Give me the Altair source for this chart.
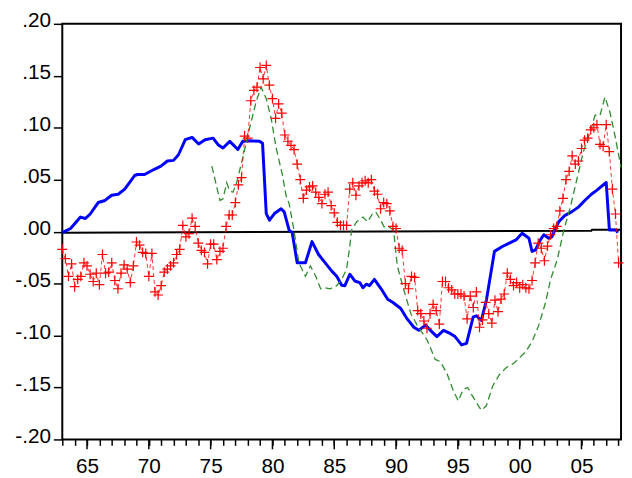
import altair as alt
import pandas as pd

# ---------------- data ----------------
# Blue solid series: (decimal year, value)
blue_t = [1963.0, 1963.67, 1964.47, 1964.87, 1965.26, 1965.9, 1966.46, 1966.99, 1967.52, 1968.05,
          1968.85, 1969.1, 1969.65, 1970.45, 1970.98, 1971.5, 1972.0, 1972.4, 1972.95, 1973.5,
          1974.03, 1974.55, 1975.2, 1975.6, 1976.0, 1976.55, 1977.2, 1977.6, 1978.15, 1978.95,
          1979.2, 1979.5, 1979.76, 1980.16, 1980.7, 1980.95, 1981.35, 1981.6, 1982.0, 1982.4,
          1982.67, 1983.2, 1983.73, 1984.27, 1984.8, 1985.2, 1985.6, 1985.86, 1986.26, 1986.66,
          1987.06, 1987.32, 1987.59, 1987.85, 1988.25, 1988.79, 1989.32, 1989.72, 1990.38, 1990.9,
          1991.44, 1991.84, 1992.38, 1992.78, 1993.3, 1993.84, 1994.37, 1994.77, 1995.3, 1995.7,
          1996.24, 1996.5, 1996.9, 1997.3, 1997.96, 1998.6, 1999.16, 1999.7, 2000.2, 2000.75,
          2001.0, 2001.28, 2001.67, 2001.95, 2002.35, 2002.6, 2003.15, 2003.67, 2004.2, 2004.75,
          2005.27, 2005.8, 2006.2, 2007.0, 2007.26, 2007.8, 2007.93]
blue_v = [-0.001, 0.003, 0.014, 0.0126, 0.017, 0.028, 0.030, 0.035, 0.036, 0.041,
          0.054, 0.055, 0.055, 0.060, 0.063, 0.068, 0.0686, 0.074, 0.0885, 0.0907,
          0.0843, 0.0885, 0.090, 0.0837, 0.0805, 0.0869, 0.079, 0.087, 0.0875, 0.0869,
          0.085, 0.0174, 0.011, 0.0174, 0.022, 0.019, 0.0015, -0.001, -0.030, -0.030,
          -0.030, -0.0096, -0.022, -0.030, -0.038, -0.043, -0.0516, -0.052, -0.041, -0.0475,
          -0.049, -0.054, -0.0506, -0.052, -0.046, -0.055, -0.065, -0.068, -0.074, -0.084,
          -0.092, -0.095, -0.090, -0.095, -0.101, -0.095, -0.098, -0.101, -0.109, -0.1075,
          -0.082, -0.081, -0.0855, -0.0665, -0.019, -0.0143, -0.011, -0.008, -0.0016, -0.0064,
          -0.019, -0.0175, -0.008, -0.003, -0.0064, -0.005, 0.0094, 0.0157, 0.019, 0.0236,
          0.030, 0.036, 0.0395, 0.0473, 0.0015, 0.0015, -0.001]

# Green dashed series
green_t = [1975.1, 1975.5, 1975.76, 1976.0, 1976.3, 1976.55, 1976.8, 1977.1, 1977.6, 1978.15,
           1978.68, 1979.08, 1979.5, 1979.9, 1980.3, 1980.8, 1981.1, 1981.35, 1981.74, 1982.14,
           1982.67, 1983.07, 1983.5, 1983.9, 1984.27, 1984.67, 1985.2, 1985.6, 1986.0, 1986.26,
           1986.4, 1986.8, 1987.33, 1987.7, 1988.1, 1988.36, 1988.76, 1989.03, 1989.4, 1989.8,
           1990.1, 1990.65, 1991.2, 1991.7, 1992.5, 1993.17, 1993.57, 1994.1, 1994.63, 1995.03,
           1995.43, 1995.8, 1996.1, 1996.5, 1996.9, 1997.3, 1997.82, 1998.36, 1998.9, 1999.55,
           1999.95, 2000.5, 2001.0, 2001.55, 2002.1, 2002.5, 2003.04, 2003.57, 2004.1, 2004.6,
           2005.15, 2005.7, 2006.1, 2006.5, 2006.9, 2007.3, 2007.7, 2008.2]
green_v = [0.063, 0.0426, 0.030, 0.0316, 0.047, 0.039, 0.038, 0.047, 0.071, 0.0995,
           0.125, 0.139, 0.128, 0.109, 0.0805, 0.055, 0.0347, 0.027, 0.0015, -0.030,
           -0.043, -0.033, -0.043, -0.055, -0.054, -0.055, -0.052, -0.046, -0.036, -0.014,
           0.0015, 0.0094, 0.014, 0.0094, 0.0174, 0.019, 0.011, 0.0047, 0.0047, 0.0015,
           -0.033, -0.057, -0.079, -0.090, -0.104, -0.123, -0.125, -0.136, -0.153, -0.163,
           -0.152, -0.150, -0.1566, -0.1645, -0.172, -0.1676, -0.1486, -0.1376, -0.131, -0.1265,
           -0.1218, -0.1154, -0.106, -0.090, -0.068, -0.046, -0.027, 0.0015, 0.0236, 0.049,
           0.077, 0.096, 0.112, 0.112, 0.1295, 0.115, 0.093, 0.0615]

# Red dashed series with + markers, quarterly from 1963Q1
red_start = 1963.0
red_q = [
    -0.017, -0.026, -0.043, -0.031,   # 1963
    -0.053, -0.046, -0.043, -0.030,   # 1964
    -0.033, -0.041, -0.048, -0.040,   # 1965
    -0.051, -0.022, -0.040, -0.039,   # 1966
    -0.030, -0.047, -0.055, -0.040,   # 1967
    -0.032, -0.036, -0.049, -0.033,   # 1968
    -0.010, -0.013, -0.020, -0.021,   # 1969
    -0.043, -0.021, -0.058, -0.061,   # 1970
    -0.052, -0.039, -0.036, -0.033,   # 1971
    -0.030, -0.022, -0.017, 0.006,    # 1972
    -0.005, -0.002, 0.013, 0.005,     # 1973
    -0.011, -0.018, -0.020, -0.031,   # 1974
    -0.012, -0.012, -0.027, -0.019,   # 1975
    -0.016, 0.005, 0.016, 0.016,      # 1976
    0.028, 0.045, 0.052, 0.092,       # 1977
    0.090, 0.126, 0.136, 0.139,       # 1978
    0.158, 0.147, 0.160, 0.141,       # 1979
    0.128, 0.109, 0.123, 0.114,       # 1980
    0.093, 0.087, 0.083, 0.079,       # 1981
    0.065, 0.050, 0.032, 0.040,       # 1982
    0.043, 0.044, 0.038, 0.033,       # 1983
    0.027, 0.036, 0.038, 0.025,       # 1984
    0.018, 0.009, 0.006, 0.006,       # 1985
    0.006, 0.041, 0.047, 0.035,       # 1986
    0.044, 0.047, 0.049, 0.047,       # 1987
    0.050, 0.039, 0.036, 0.022,       # 1988
    0.028, 0.027, 0.020, 0.005,       # 1989
    0.003, -0.016, -0.018, -0.050,    # 1990
    -0.055, -0.043, -0.044, -0.076,   # 1991
    -0.079, -0.086, -0.093, -0.079,   # 1992
    -0.070, -0.076, -0.089, -0.048,   # 1993
    -0.048, -0.054, -0.056, -0.060,   # 1994
    -0.060, -0.060, -0.062, -0.084,   # 1995
    -0.062, -0.073, -0.058, -0.092,   # 1996
    -0.085, -0.068, -0.079, -0.088,   # 1997
    -0.066, -0.077, -0.065, -0.060,   # 1998
    -0.040, -0.046, -0.052, -0.049,   # 1999
    -0.054, -0.051, -0.054, -0.055,   # 2000
    -0.047, -0.030, -0.011, -0.016,   # 2001
    -0.028, -0.014, -0.003, 0.003,    # 2002
    0.005, 0.020, 0.032, 0.050,       # 2003
    0.058, 0.073, 0.065, 0.068,       # 2004
    0.080, 0.088, 0.090, 0.098,       # 2005
    0.100, 0.103, 0.084, 0.082,       # 2006
    0.103, 0.077, 0.041, 0.017,       # 2007
    -0.030,                           # 2008
]

# Black near-zero line
zero_t = [1963.0, 2005.8, 2005.85, 2008.2]
zero_v = [-0.001, 0.0008, 0.0018, 0.0018]

year_ticks = list(range(1963, 2009))
major_years = list(range(1965, 2006, 5))
y_ticks = [-0.20, -0.15, -0.10, -0.05, 0.0, 0.05, 0.10, 0.15, 0.20]

# ---------------- tables ----------------
df_blue = pd.DataFrame({"t": blue_t, "v": blue_v})
df_green = pd.DataFrame({"t": green_t, "v": green_v})
df_red = pd.DataFrame({"t": [red_start + i / 4 for i in range(len(red_q))], "v": red_q})
df_zero = pd.DataFrame({"t": zero_t, "v": zero_v})
df_major = pd.DataFrame({"t": major_years})

W, H = 566, 421

x_scale = alt.Scale(domain=[1963.0, 2008.2], nice=False, zero=False)
y_scale = alt.Scale(domain=[-0.2, 0.2], nice=False, zero=False)

x_enc = alt.X(
    "t:Q", scale=x_scale, title=None,
    axis=alt.Axis(
        values=year_ticks, tickSize=6, labelPadding=10,
        labelExpr="datum.value % 5 == 0 ? substring(toString(datum.value), 2) : ''",
        labelFlush=False, labelOverlap=False, grid=False, domain=False,
    ),
)
y_enc = alt.Y(
    "v:Q", scale=y_scale, title=None,
    axis=alt.Axis(
        values=y_ticks, tickSize=9, labelPadding=3, labelOffset=-3,
        labelExpr="(datum.value < 0 ? '-' : '') + replace(format(abs(datum.value), '.2f'), '0.', '.')",
        grid=False, domain=False,
    ),
)

zero_line = alt.Chart(df_zero).mark_line(color="black", strokeWidth=2).encode(x=x_enc, y=y_enc)
blue_line = alt.Chart(df_blue).mark_line(color="#0000ff", strokeWidth=3, strokeJoin="round").encode(x=x_enc, y=y_enc)
green_line = alt.Chart(df_green).mark_line(color="#2e8b2e", strokeWidth=1.3, strokeDash=[7, 4]).encode(x=x_enc, y=y_enc)
red_line = alt.Chart(df_red).mark_line(color="#ff0000", strokeWidth=1, strokeDash=[4, 3], opacity=0.8).encode(x=x_enc, y=y_enc)
red_pts = alt.Chart(df_red).mark_point(
    shape="M-1,0L1,0M0,-1L0,1", size=100, filled=False, color="#ff0000", strokeWidth=1.2, opacity=1
).encode(x=x_enc, y=y_enc)
major_ticks = alt.Chart(df_major).mark_rule(color="black", strokeWidth=1.5).encode(
    x=x_enc, y=alt.value(H), y2=alt.value(H + 10)
)

chart = alt.layer(zero_line, blue_line, green_line, red_line, red_pts, major_ticks).properties(
    width=W, height=H,
    autosize=alt.AutoSizeParams(type="none"),
    padding={"left": 55, "top": 13, "right": 3, "bottom": 34},
).configure_view(
    stroke="black", strokeWidth=2
).configure_axis(
    labelFont="Liberation Sans", labelFontSize=21, labelColor="black",
    tickColor="black", tickWidth=1.5,
)

chart.save("out.html", embed_options={"renderer": "svg", "actions": False})
